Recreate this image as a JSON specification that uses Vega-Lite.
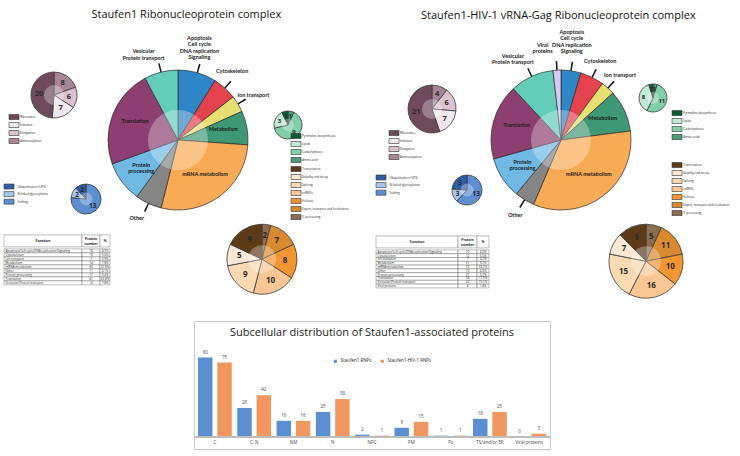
{
  "$schema": "https://vega.github.io/schema/vega-lite/v6.json",
  "padding": {"left": 3, "top": 8, "right": 0, "bottom": 0},
  "background": "white",
  "config": {
    "view": {"stroke": null},
    "font": "Open Sans",
    "title": {"font": "Open Sans", "fontSize": 11, "fontWeight": "normal", "color": "#111"},
    "legend": {"labelFontSize": 3, "labelFont": "Open Sans", "symbolType": "M-2,-1H2V1H-2Z", "symbolSize": 25, "symbolStrokeColor": "#333", "symbolStrokeWidth": 0.6, "symbolOpacity": 1, "rowPadding": 0, "padding": 0, "labelOffset": 3, "labelColor": "#222", "labelLimit": 200}
  },
  "datasets": {
    "mainL": [
      {"cat": "Apoptosis/Cell cycle/DNA replication/Signaling", "n": 16, "lab": "Apoptosis\nCell cycle\nDNA replication\nSignaling"},
      {"cat": "Cytoskeleton", "n": 10, "lab": "Cytoskeleton"},
      {"cat": "Ion transport", "n": 7, "lab": "Ion transport"},
      {"cat": "Metabolism", "n": 14, "lab": "Metabolism"},
      {"cat": "mRNA metabolism", "n": 50, "lab": "mRNA metabolism"},
      {"cat": "Other", "n": 11, "lab": "Other"},
      {"cat": "Protein processing", "n": 17, "lab": "Protein\nprocessing"},
      {"cat": "Translation", "n": 41, "lab": "Translation"},
      {"cat": "Vesicular/Protein transport", "n": 14, "lab": "Vesicular\nProtein transport"}
    ],
    "mainR": [
      {"cat": "Apoptosis/Cell cycle/DNA replication/Signaling", "n": 10, "lab": "Apoptosis\nCell cycle\nDNA replication\nSignaling"},
      {"cat": "Cytoskeleton", "n": 12, "lab": "Cytoskeleton"},
      {"cat": "Ion transport", "n": 7, "lab": "Ion transport"},
      {"cat": "Metabolism", "n": 21, "lab": "Metabolism"},
      {"cat": "mRNA metabolism", "n": 73, "lab": "mRNA metabolism"},
      {"cat": "Other", "n": 10, "lab": "Other"},
      {"cat": "Protein processing", "n": 21, "lab": "Protein\nprocessing"},
      {"cat": "Translation", "n": 38, "lab": "Translation"},
      {"cat": "Vesicular/Protein transport", "n": 22, "lab": "Vesicular\nProtein transport"},
      {"cat": "Viral proteins", "n": 4, "lab": "Viral\nproteins"}
    ],
    "transL": [{"c": "Aminoacylation", "n": 8}, {"c": "Elongation", "n": 6}, {"c": "Initiation", "n": 7}, {"c": "Ribosomes", "n": 20}],
    "transR": [{"c": "Aminoacylation", "n": 4}, {"c": "Elongation", "n": 6}, {"c": "Initiation", "n": 7}, {"c": "Ribosomes", "n": 21}],
    "metL": [{"c": "Amino acid", "n": 1}, {"c": "Carbohydrates", "n": 9}, {"c": "Lipids", "n": 3}, {"c": "Pyrimidine biosynthesis", "n": 1}],
    "metR": [{"c": "Amino acids", "n": 1}, {"c": "Carbohydrates", "n": 11}, {"c": "Lipids", "n": 8}, {"c": "Pyrimidine biosynthesis", "n": 1}],
    "protL": [{"c": "Folding", "n": 13}, {"c": "N-linked glycosylation", "n": 2}, {"c": "Ubiquitination (UPS)", "n": 2}],
    "protR": [{"c": "Folding", "n": 13}, {"c": "N-linked glycosylation", "n": 3}, {"c": "Ubiquitination (UPS)", "n": 5}],
    "mrnaL": [{"c": "3'-processing", "n": 2}, {"c": "Export, transport and localization", "n": 7}, {"c": "Helicase", "n": 8}, {"c": "snRNPs", "n": 10}, {"c": "Splicing", "n": 9}, {"c": "Stability and decay", "n": 5}, {"c": "Transcription", "n": 9}],
    "mrnaR": [{"c": "3'-processing", "n": 5}, {"c": "Export, transport and localization", "n": 11}, {"c": "Helicase", "n": 10}, {"c": "snRNPs", "n": 16}, {"c": "Splicing", "n": 15}, {"c": "Stability and decay", "n": 7}, {"c": "Transcription", "n": 9}],
    "tableL": [
      {"f": "Apoptosis/Cell cycle/DNA replication/Signaling", "n": "16", "p": "8.9%"},
      {"f": "Cytoskeleton", "n": "10", "p": "5.6%"},
      {"f": "Ion transport", "n": "7", "p": "3.9%"},
      {"f": "Metabolism", "n": "14", "p": "7.8%"},
      {"f": "mRNA metabolism", "n": "50", "p": "27.8%"},
      {"f": "Other", "n": "11", "p": "6.1%"},
      {"f": "Protein processing", "n": "17", "p": "9.4%"},
      {"f": "Translation", "n": "41", "p": "22.8%"},
      {"f": "Vesicular/Protein transport", "n": "14", "p": "7.8%"}
    ],
    "tableR": [
      {"f": "Apoptosis/Cell cycle/DNA replication/Signaling", "n": "10", "p": "4.6%"},
      {"f": "Cytoskeleton", "n": "12", "p": "5.5%"},
      {"f": "Ion transport", "n": "7", "p": "3.2%"},
      {"f": "Metabolism", "n": "21", "p": "9.7%"},
      {"f": "mRNA metabolism", "n": "73", "p": "33.7%"},
      {"f": "Other", "n": "10", "p": "4.6%"},
      {"f": "Protein processing", "n": "21", "p": "9.7%"},
      {"f": "Translation", "n": "38", "p": "17.5%"},
      {"f": "Vesicular/Protein transport", "n": "22", "p": "10.1%"},
      {"f": "Viral proteins", "n": "4", "p": "1.8%"}
    ],
    "bars": [
      {"loc": "C", "s": "Staufen1 RNPs", "v": 80}, {"loc": "C", "s": "Staufen1-HIV-1 RNPs", "v": 75},
      {"loc": "C, N", "s": "Staufen1 RNPs", "v": 29}, {"loc": "C, N", "s": "Staufen1-HIV-1 RNPs", "v": 42},
      {"loc": "NM", "s": "Staufen1 RNPs", "v": 16}, {"loc": "NM", "s": "Staufen1-HIV-1 RNPs", "v": 16},
      {"loc": "N", "s": "Staufen1 RNPs", "v": 25}, {"loc": "N", "s": "Staufen1-HIV-1 RNPs", "v": 38},
      {"loc": "NPC", "s": "Staufen1 RNPs", "v": 2}, {"loc": "NPC", "s": "Staufen1-HIV-1 RNPs", "v": 1},
      {"loc": "PM", "s": "Staufen1 RNPs", "v": 9}, {"loc": "PM", "s": "Staufen1-HIV-1 RNPs", "v": 15},
      {"loc": "Ps", "s": "Staufen1 RNPs", "v": 1}, {"loc": "Ps", "s": "Staufen1-HIV-1 RNPs", "v": 1},
      {"loc": "TS/and/or ER", "s": "Staufen1 RNPs", "v": 18}, {"loc": "TS/and/or ER", "s": "Staufen1-HIV-1 RNPs", "v": 25},
      {"loc": "Viral proteins", "s": "Staufen1 RNPs", "v": 0}, {"loc": "Viral proteins", "s": "Staufen1-HIV-1 RNPs", "v": 3}
    ]
  },
  "vconcat": [
    {
      "hconcat": [
        {
          "title": {"text": "Staufen1 Ribonucleoprotein complex", "offset": 16, "anchor": "middle"},
          "vconcat": [
            {
              "hconcat": [
                {
                  "vconcat": [
                    {
                      "width": 100, "height": 50,
                      "data": {"name": "transL"},
                      "layer": [
                        {"transform": [{"calculate": "lower(datum.c)", "as": "k"}],
                         "mark": {"type": "arc", "outerRadius": 23, "stroke": "#3a3a3a", "strokeWidth": 0.8},
                         "encoding": {"theta": {"field": "n", "type": "quantitative", "stack": true}, "order": {"field": "k"},
                           "color": {"field": "c", "type": "nominal", "scale": {"domain": ["Ribosomes", "Initiation", "Elongation", "Aminoacylation"], "range": ["#6f4a5c", "#f1e7ef", "#dcc1cf", "#a98697"]},
                             "legend": {"orient": "none", "legendX": 7, "legendY": 44, "title": null}}}},
                        {"data": {"values": [{}]}, "mark": {"type": "arc", "theta": 0, "theta2": 6.2832, "outerRadius": 10, "fill": "#ffffff", "fillOpacity": 0.3}, "encoding": {}},
                        {"transform": [{"calculate": "lower(datum.c)", "as": "k"}],
                         "mark": {"type": "text", "radius": 15, "fontSize": 7.5, "fontWeight": "bold", "fill": "#2a2a2a"},
                         "encoding": {"theta": {"field": "n", "type": "quantitative", "stack": true}, "order": {"field": "k"}, "text": {"field": "n", "type": "quantitative"}}}
                      ]
                    },
                    {
                      "hconcat": [
                        {
                          "width": 10, "height": 20.2,
                          "data": {"name": "protL"},
                          "mark": {"type": "rect", "stroke": "#333", "strokeWidth": 0.6},
                          "encoding": {
                            "y": {"field": "c", "type": "nominal", "sort": ["Ubiquitination (UPS)", "N-linked glycosylation", "Folding"], "scale": {"paddingInner": 0.34, "paddingOuter": 0},
                              "axis": {"orient": "right", "domain": false, "ticks": false, "title": null, "labelFontSize": 3, "labelFont": "Open Sans", "labelColor": "#222", "labelPadding": 3, "labelLimit": 200}},
                            "color": {"field": "c", "type": "nominal", "legend": null, "scale": {"domain": ["Ubiquitination (UPS)", "N-linked glycosylation", "Folding"], "range": ["#2e5ea6", "#a8c6ea", "#5e8ed2"]}}
                          }
                        },
                        {
                          "width": 30, "height": 30,
                          "data": {"name": "protL"},
                          "layer": [
                            {"transform": [{"calculate": "lower(datum.c)", "as": "k"}],
                             "mark": {"type": "arc", "outerRadius": 15, "stroke": "#3a3a3a", "strokeWidth": 0.8},
                             "encoding": {"theta": {"field": "n", "type": "quantitative", "stack": true}, "order": {"field": "k"},
                               "color": {"field": "c", "type": "nominal", "legend": null, "scale": {"domain": ["Ubiquitination (UPS)", "N-linked glycosylation", "Folding"], "range": ["#2e5ea6", "#a8c6ea", "#5e8ed2"]}}}},
                            {"data": {"values": [{}]}, "mark": {"type": "arc", "theta": 0, "theta2": 6.2832, "outerRadius": 6.5, "fill": "#ffffff", "fillOpacity": 0.3}, "encoding": {}},
                            {"transform": [{"calculate": "lower(datum.c)", "as": "k"}],
                             "mark": {"type": "text", "radius": 10, "fontSize": 6.5, "fontWeight": "bold", "fill": "#2a2a2a"},
                             "encoding": {"theta": {"field": "n", "type": "quantitative", "stack": true}, "order": {"field": "k"}, "text": {"field": "n", "type": "quantitative"}}}
                          ]
                        }
                      ],
                      "spacing": 21, "bounds": "full",
                      "resolve": {"scale": {"color": "independent", "theta": "independent"}, "legend": {"color": "independent"}}
                    }
                  ],
                  "spacing": 37, "bounds": "full",
                  "resolve": {"scale": {"color": "independent", "theta": "independent"}, "legend": {"color": "independent"}}
                },
                {
                  "width": 140, "height": 140,
                  "data": {"name": "mainL"},
                  "transform": [
                    {"calculate": "lower(datum.cat)", "as": "k"},
                    {"window": [{"op": "sum", "field": "n", "as": "cum"}], "sort": [{"field": "k", "order": "ascending"}]},
                    {"joinaggregate": [{"op": "sum", "field": "n", "as": "tot"}]},
                    {"calculate": "(datum.cum - datum.n/2)/datum.tot*360", "as": "mid"},
                    {"calculate": "datum.mid + (datum.cat == 'Vesicular/Protein transport' ? -8 : datum.cat == 'Cytoskeleton' ? -4 : datum.cat == 'Apoptosis/Cell cycle/DNA replication/Signaling' ? -3 : datum.cat == 'Other' ? 3 : 0)", "as": "ang"}
                  ],
                  "layer": [
                    {"mark": {"type": "arc", "outerRadius": 70, "stroke": "#2b2b2b", "strokeWidth": 0.7},
                     "encoding": {"theta": {"field": "n", "type": "quantitative", "stack": true}, "order": {"field": "k"},
                       "color": {"field": "cat", "type": "nominal", "legend": null, "scale": {"domain": ["Apoptosis/Cell cycle/DNA replication/Signaling", "Cytoskeleton", "Ion transport", "Metabolism", "mRNA metabolism", "Other", "Protein processing", "Translation", "Vesicular/Protein transport", "Viral proteins"], "range": ["#2f86c6", "#e4434e", "#e7df72", "#3f9875", "#f8aa55", "#858585", "#6fb9e4", "#8d3f72", "#63cdb9", "#d3cdf3"]}}}},
                    {"data": {"values": [{}]}, "mark": {"type": "arc", "theta": 0, "theta2": 6.2832, "outerRadius": 30, "fill": "#ffffff", "fillOpacity": 0.3}, "encoding": {}},
                    {"transform": [
                       {"filter": "indexof(['Translation','Metabolism','mRNA metabolism','Protein processing'], datum.cat) < 0"},
                       {"calculate": "datum.mid - 0.6", "as": "a0"},
                       {"calculate": "datum.mid + 0.6", "as": "a1"}],
                     "mark": {"type": "arc", "innerRadius": 70, "outerRadius": 79, "fill": "#1a1a1a"},
                     "encoding": {"theta": {"field": "a0", "type": "quantitative", "stack": null, "scale": {"domain": [0, 360]}}, "theta2": {"field": "a1"}}},
                    {"transform": [{"filter": "indexof(['Translation','Metabolism','mRNA metabolism','Protein processing'], datum.cat) >= 0"}],
                     "mark": {"type": "text", "radius": 46, "dy": -3, "font": "Lato", "fontSize": 5.5, "fontWeight": "bold", "lineBreak": "\n", "lineHeight": 6.3, "fill": "#1a1a1a"},
                     "encoding": {"theta": {"field": "mid", "type": "quantitative", "stack": null, "scale": {"domain": [0, 360]}}, "text": {"field": "lab"}}},
                    {"transform": [{"filter": "datum.cat == 'Apoptosis/Cell cycle/DNA replication/Signaling'"}],
                     "mark": {"type": "text", "radius": 95, "dy": -9.5, "font": "Lato", "fontSize": 5.5, "fontWeight": "bold", "lineBreak": "\n", "lineHeight": 6.3, "fill": "#1a1a1a"},
                     "encoding": {"theta": {"field": "ang", "type": "quantitative", "stack": null, "scale": {"domain": [0, 360]}}, "text": {"field": "lab"}}},
                    {"transform": [{"filter": "datum.cat == 'Vesicular/Protein transport'"}],
                     "mark": {"type": "text", "radius": 92, "dy": -3.2, "font": "Lato", "fontSize": 5.5, "fontWeight": "bold", "lineBreak": "\n", "lineHeight": 6.3, "fill": "#1a1a1a"},
                     "encoding": {"theta": {"field": "ang", "type": "quantitative", "stack": null, "scale": {"domain": [0, 360]}}, "text": {"field": "lab"}}},
                    {"transform": [{"filter": "indexof(['Cytoskeleton','Ion transport','Other'], datum.cat) >= 0"}],
                     "mark": {"type": "text", "radius": 88, "font": "Lato", "fontSize": 5.5, "fontWeight": "bold", "fill": "#1a1a1a"},
                     "encoding": {"theta": {"field": "ang", "type": "quantitative", "stack": null, "scale": {"domain": [0, 360]}}, "text": {"field": "lab"}}}
                  ],
                  "resolve": {"scale": {"theta": "independent"}}
                },
                {
                  "width": 28, "height": 110,
                  "data": {"name": "metL"},
                  "layer": [
                    {"transform": [{"calculate": "lower(datum.c)", "as": "k"}],
                     "mark": {"type": "arc", "outerRadius": 14, "stroke": "#3a3a3a", "strokeWidth": 0.8},
                     "encoding": {"theta": {"field": "n", "type": "quantitative", "stack": true}, "order": {"field": "k"},
                       "color": {"field": "c", "type": "nominal", "scale": {"domain": ["Pyrimidine biosynthesis", "Lipids", "Carbohydrates", "Amino acid"], "range": ["#0e5c36", "#c4e8d6", "#80cfa8", "#4b9c7a"]},
                         "legend": {"orient": "none", "legendX": 19, "legendY": 63, "title": null}}}},
                    {"data": {"values": [{}]}, "mark": {"type": "arc", "theta": 0, "theta2": 6.2832, "outerRadius": 6, "fill": "#ffffff", "fillOpacity": 0.3}, "encoding": {}},
                    {"transform": [{"calculate": "lower(datum.c)", "as": "k"}],
                     "mark": {"type": "text", "radius": 9.5, "fontSize": 6, "fontWeight": "bold", "fill": "#2a2a2a"},
                     "encoding": {"theta": {"field": "n", "type": "quantitative", "stack": true}, "order": {"field": "k"}, "text": {"field": "n", "type": "quantitative"}}},
                    {"data": {"name": "mrnaL"},
                     "mark": {"type": "arc", "outerRadius": 1, "opacity": 0},
                     "encoding": {"theta": {"field": "n", "type": "quantitative"},
                       "color": {"field": "c", "type": "nominal", "scale": {"domain": ["Transcription", "Stability and decay", "Splicing", "snRNPs", "Helicase", "Export, transport and localization", "3'-processing"], "range": ["#5e3b18", "#fce8d6", "#fbd9b2", "#f9c794", "#f39632", "#d98a2e", "#8c6d50"]},
                         "legend": {"orient": "none", "legendX": 19, "legendY": 96, "title": null, "symbolOpacity": 1, "symbolStrokeColor": "#333"}}}}
                  ],
                  "resolve": {"scale": {"color": "independent", "theta": "independent"}, "legend": {"color": "independent"}}
                }
              ],
              "spacing": 2, "bounds": "full",
              "resolve": {"scale": {"color": "independent", "theta": "independent"}, "legend": {"color": "independent"}}
            },
            {
              "hconcat": [
                {
                  "vconcat": [
                    {
                      "hconcat": [
                        {"width": 78, "height": 12, "data": {"values": [{"h": "Function"}]}, "layer": [{"mark": {"type": "rect", "fill": "#ffffff", "stroke": "#555", "strokeWidth": 0.4}, "encoding": {}}, {"mark": {"type": "text", "fontSize": 3.4, "fontWeight": "bold", "fill": "#222"}, "encoding": {"text": {"field": "h"}}}]},
                        {"width": 18, "height": 12, "data": {"values": [{"h": "Protein\nnumber"}]}, "layer": [{"mark": {"type": "rect", "fill": "#ffffff", "stroke": "#555", "strokeWidth": 0.4}, "encoding": {}}, {"mark": {"type": "text", "fontSize": 3.4, "fontWeight": "bold", "fill": "#222", "lineBreak": "\n", "dy": -2}, "encoding": {"text": {"field": "h"}}}]},
                        {"width": 10, "height": 12, "data": {"values": [{"h": "%"}]}, "layer": [{"mark": {"type": "rect", "fill": "#ffffff", "stroke": "#555", "strokeWidth": 0.4}, "encoding": {}}, {"mark": {"type": "text", "fontSize": 3.4, "fontWeight": "bold", "fill": "#222"}, "encoding": {"text": {"field": "h"}}}]}
                      ],
                      "spacing": 0, "bounds": "flush"
                    },
                    {
                      "hconcat": [
                        {"width": 78, "height": 36, "data": {"name": "tableL"}, "encoding": {"y": {"field": "f", "type": "nominal", "sort": null, "axis": null, "scale": {"paddingInner": 0, "paddingOuter": 0}}},
                         "layer": [{"mark": {"type": "rect", "fill": "#ffffff", "stroke": "#555", "strokeWidth": 0.4}}, {"mark": {"type": "text", "fontSize": 3, "align": "left", "dx": -37.5, "fill": "#222"}, "encoding": {"text": {"field": "f"}}}]},
                        {"width": 18, "height": 36, "data": {"name": "tableL"}, "encoding": {"y": {"field": "f", "type": "nominal", "sort": null, "axis": null, "scale": {"paddingInner": 0, "paddingOuter": 0}}},
                         "layer": [{"mark": {"type": "rect", "fill": "#ffffff", "stroke": "#555", "strokeWidth": 0.4}}, {"mark": {"type": "text", "fontSize": 3, "fill": "#222"}, "encoding": {"text": {"field": "n"}}}]},
                        {"width": 10, "height": 36, "data": {"name": "tableL"}, "encoding": {"y": {"field": "f", "type": "nominal", "sort": null, "axis": null, "scale": {"paddingInner": 0, "paddingOuter": 0}}},
                         "layer": [{"mark": {"type": "rect", "fill": "#ffffff", "stroke": "#555", "strokeWidth": 0.4}}, {"mark": {"type": "text", "fontSize": 3, "fill": "#222"}, "encoding": {"text": {"field": "p"}}}]}
                      ],
                      "spacing": 0, "bounds": "flush"
                    }
                  ],
                  "spacing": 0, "bounds": "full"
                },
                {
                  "width": 214, "height": 70,
                  "data": {"name": "mrnaL"},
                  "layer": [
                    {"transform": [{"calculate": "lower(datum.c)", "as": "k"}],
                     "mark": {"type": "arc", "outerRadius": 35, "stroke": "#3a3a3a", "strokeWidth": 0.8},
                     "encoding": {"theta": {"field": "n", "type": "quantitative", "stack": true}, "order": {"field": "k"},
                       "color": {"field": "c", "type": "nominal", "legend": null, "scale": {"domain": ["Transcription", "Stability and decay", "Splicing", "snRNPs", "Helicase", "Export, transport and localization", "3'-processing"], "range": ["#5e3b18", "#fce8d6", "#fbd9b2", "#f9c794", "#f39632", "#d98a2e", "#8c6d50"]}}}},
                    {"data": {"values": [{}]}, "mark": {"type": "arc", "theta": 0, "theta2": 6.2832, "outerRadius": 14, "fill": "#ffffff", "fillOpacity": 0.3}, "encoding": {}},
                    {"transform": [{"calculate": "lower(datum.c)", "as": "k"}],
                     "mark": {"type": "text", "radius": 23, "fontSize": 8, "fontWeight": "bold", "fill": "#2a2a2a"},
                     "encoding": {"theta": {"field": "n", "type": "quantitative", "stack": true}, "order": {"field": "k"}, "text": {"field": "n", "type": "quantitative"}}}
                  ]
                }
              ],
              "spacing": 44, "center": true, "bounds": "full",
              "resolve": {"scale": {"color": "independent", "theta": "independent"}, "legend": {"color": "independent"}}
            }
          ],
          "spacing": 0, "bounds": "full",
          "resolve": {"scale": {"color": "independent", "theta": "independent"}, "legend": {"color": "independent"}}
        },
        {
          "title": {"text": "Staufen1-HIV-1 vRNA-Gag Ribonucleoprotein complex", "offset": 9, "anchor": "middle"},
          "vconcat": [
            {
              "hconcat": [
                {
                  "vconcat": [
                    {
                      "width": 112, "height": 78,
                      "data": {"name": "transR"},
                      "layer": [
                        {"transform": [{"calculate": "lower(datum.c)", "as": "k"}],
                         "mark": {"type": "arc", "outerRadius": 24, "stroke": "#3a3a3a", "strokeWidth": 0.8},
                         "encoding": {"theta": {"field": "n", "type": "quantitative", "stack": true}, "order": {"field": "k"},
                           "color": {"field": "c", "type": "nominal", "scale": {"domain": ["Ribosomes", "Initiation", "Elongation", "Aminoacylation"], "range": ["#6f4a5c", "#f1e7ef", "#dcc1cf", "#a98697"]},
                             "legend": {"orient": "none", "legendX": 15, "legendY": 60, "title": null}}}},
                        {"data": {"values": [{}]}, "mark": {"type": "arc", "theta": 0, "theta2": 6.2832, "outerRadius": 10, "fill": "#ffffff", "fillOpacity": 0.3}, "encoding": {}},
                        {"transform": [{"calculate": "lower(datum.c)", "as": "k"}],
                         "mark": {"type": "text", "radius": 16, "fontSize": 7.5, "fontWeight": "bold", "fill": "#2a2a2a"},
                         "encoding": {"theta": {"field": "n", "type": "quantitative", "stack": true}, "order": {"field": "k"}, "text": {"field": "n", "type": "quantitative"}}}
                      ]
                    },
                    {
                      "hconcat": [
                        {
                          "width": 10, "height": 20.2,
                          "data": {"name": "protR"},
                          "mark": {"type": "rect", "stroke": "#333", "strokeWidth": 0.6},
                          "encoding": {
                            "y": {"field": "c", "type": "nominal", "sort": ["Ubiquitination (UPS)", "N-linked glycosylation", "Folding"], "scale": {"paddingInner": 0.34, "paddingOuter": 0},
                              "axis": {"orient": "right", "domain": false, "ticks": false, "title": null, "labelFontSize": 3, "labelFont": "Open Sans", "labelColor": "#222", "labelPadding": 3, "labelLimit": 200}},
                            "color": {"field": "c", "type": "nominal", "legend": null, "scale": {"domain": ["Ubiquitination (UPS)", "N-linked glycosylation", "Folding"], "range": ["#2e5ea6", "#a8c6ea", "#5e8ed2"]}}
                          }
                        },
                        {
                          "width": 30, "height": 30,
                          "data": {"name": "protR"},
                          "layer": [
                            {"transform": [{"calculate": "lower(datum.c)", "as": "k"}],
                             "mark": {"type": "arc", "outerRadius": 15, "stroke": "#3a3a3a", "strokeWidth": 0.8},
                             "encoding": {"theta": {"field": "n", "type": "quantitative", "stack": true}, "order": {"field": "k"},
                               "color": {"field": "c", "type": "nominal", "legend": null, "scale": {"domain": ["Ubiquitination (UPS)", "N-linked glycosylation", "Folding"], "range": ["#2e5ea6", "#a8c6ea", "#5e8ed2"]}}}},
                            {"data": {"values": [{}]}, "mark": {"type": "arc", "theta": 0, "theta2": 6.2832, "outerRadius": 6.5, "fill": "#ffffff", "fillOpacity": 0.3}, "encoding": {}},
                            {"transform": [{"calculate": "lower(datum.c)", "as": "k"}],
                             "mark": {"type": "text", "radius": 10, "fontSize": 6.5, "fontWeight": "bold", "fill": "#2a2a2a"},
                             "encoding": {"theta": {"field": "n", "type": "quantitative", "stack": true}, "order": {"field": "k"}, "text": {"field": "n", "type": "quantitative"}}}
                          ]
                        }
                      ],
                      "spacing": 30, "bounds": "full",
                      "resolve": {"scale": {"color": "independent", "theta": "independent"}, "legend": {"color": "independent"}}
                    }
                  ],
                  "spacing": 12, "bounds": "full",
                  "resolve": {"scale": {"color": "independent", "theta": "independent"}, "legend": {"color": "independent"}}
                },
                {
                  "width": 140, "height": 140,
                  "data": {"name": "mainR"},
                  "transform": [
                    {"calculate": "lower(datum.cat)", "as": "k"},
                    {"window": [{"op": "sum", "field": "n", "as": "cum"}], "sort": [{"field": "k", "order": "ascending"}]},
                    {"joinaggregate": [{"op": "sum", "field": "n", "as": "tot"}]},
                    {"calculate": "(datum.cum - datum.n/2)/datum.tot*360", "as": "mid"},
                    {"calculate": "datum.mid + (datum.cat == 'Vesicular/Protein transport' ? -6 : datum.cat == 'Viral proteins' ? -8 : datum.cat == 'Apoptosis/Cell cycle/DNA replication/Signaling' ? -2 : 0)", "as": "ang"}
                  ],
                  "layer": [
                    {"mark": {"type": "arc", "outerRadius": 70, "stroke": "#2b2b2b", "strokeWidth": 0.7},
                     "encoding": {"theta": {"field": "n", "type": "quantitative", "stack": true}, "order": {"field": "k"},
                       "color": {"field": "cat", "type": "nominal", "legend": null, "scale": {"domain": ["Apoptosis/Cell cycle/DNA replication/Signaling", "Cytoskeleton", "Ion transport", "Metabolism", "mRNA metabolism", "Other", "Protein processing", "Translation", "Vesicular/Protein transport", "Viral proteins"], "range": ["#2f86c6", "#e4434e", "#e7df72", "#3f9875", "#f8aa55", "#858585", "#6fb9e4", "#8d3f72", "#63cdb9", "#d3cdf3"]}}}},
                    {"data": {"values": [{}]}, "mark": {"type": "arc", "theta": 0, "theta2": 6.2832, "outerRadius": 30, "fill": "#ffffff", "fillOpacity": 0.3}, "encoding": {}},
                    {"transform": [
                       {"filter": "indexof(['Translation','Metabolism','mRNA metabolism','Protein processing'], datum.cat) < 0"},
                       {"calculate": "datum.mid - 0.6", "as": "a0"},
                       {"calculate": "datum.mid + 0.6", "as": "a1"}],
                     "mark": {"type": "arc", "innerRadius": 70, "outerRadius": 79, "fill": "#1a1a1a"},
                     "encoding": {"theta": {"field": "a0", "type": "quantitative", "stack": null, "scale": {"domain": [0, 360]}}, "theta2": {"field": "a1"}}},
                    {"transform": [{"filter": "indexof(['Translation','Metabolism','mRNA metabolism','Protein processing'], datum.cat) >= 0"}],
                     "mark": {"type": "text", "radius": 46, "dy": -3, "font": "Lato", "fontSize": 5.5, "fontWeight": "bold", "lineBreak": "\n", "lineHeight": 6.3, "fill": "#1a1a1a"},
                     "encoding": {"theta": {"field": "mid", "type": "quantitative", "stack": null, "scale": {"domain": [0, 360]}}, "text": {"field": "lab"}}},
                    {"transform": [{"filter": "datum.cat == 'Apoptosis/Cell cycle/DNA replication/Signaling'"}],
                     "mark": {"type": "text", "radius": 99, "dy": -9.5, "font": "Lato", "fontSize": 5.5, "fontWeight": "bold", "lineBreak": "\n", "lineHeight": 6.3, "fill": "#1a1a1a"},
                     "encoding": {"theta": {"field": "ang", "type": "quantitative", "stack": null, "scale": {"domain": [0, 360]}}, "text": {"field": "lab"}}},
                    {"transform": [{"filter": "indexof(['Vesicular/Protein transport','Viral proteins'], datum.cat) >= 0"}],
                     "mark": {"type": "text", "radius": 94, "dy": -3.2, "font": "Lato", "fontSize": 5.5, "fontWeight": "bold", "lineBreak": "\n", "lineHeight": 6.3, "fill": "#1a1a1a"},
                     "encoding": {"theta": {"field": "ang", "type": "quantitative", "stack": null, "scale": {"domain": [0, 360]}}, "text": {"field": "lab"}}},
                    {"transform": [{"filter": "indexof(['Cytoskeleton','Ion transport','Other'], datum.cat) >= 0"}],
                     "mark": {"type": "text", "radius": 88, "font": "Lato", "fontSize": 5.5, "fontWeight": "bold", "fill": "#1a1a1a"},
                     "encoding": {"theta": {"field": "ang", "type": "quantitative", "stack": null, "scale": {"domain": [0, 360]}}, "text": {"field": "lab"}}}
                  ],
                  "resolve": {"scale": {"theta": "independent"}}
                },
                {
                  "width": 28, "height": 56,
                  "data": {"name": "metR"},
                  "layer": [
                    {"transform": [{"calculate": "lower(datum.c)", "as": "k"}],
                     "mark": {"type": "arc", "outerRadius": 14, "stroke": "#3a3a3a", "strokeWidth": 0.8},
                     "encoding": {"theta": {"field": "n", "type": "quantitative", "stack": true}, "order": {"field": "k"},
                       "color": {"field": "c", "type": "nominal", "scale": {"domain": ["Pyrimidine biosynthesis", "Lipids", "Carbohydrates", "Amino acids"], "range": ["#0e5c36", "#c4e8d6", "#80cfa8", "#4b9c7a"]},
                         "legend": {"orient": "none", "legendX": 35, "legendY": 40, "title": null}}}},
                    {"data": {"values": [{}]}, "mark": {"type": "arc", "theta": 0, "theta2": 6.2832, "outerRadius": 6, "fill": "#ffffff", "fillOpacity": 0.3}, "encoding": {}},
                    {"transform": [{"calculate": "lower(datum.c)", "as": "k"}],
                     "mark": {"type": "text", "radius": 9.5, "fontSize": 6, "fontWeight": "bold", "fill": "#2a2a2a"},
                     "encoding": {"theta": {"field": "n", "type": "quantitative", "stack": true}, "order": {"field": "k"}, "text": {"field": "n", "type": "quantitative"}}},
                    {"data": {"name": "mrnaR"},
                     "mark": {"type": "arc", "outerRadius": 1, "opacity": 0},
                     "encoding": {"theta": {"field": "n", "type": "quantitative"},
                       "color": {"field": "c", "type": "nominal", "scale": {"domain": ["Transcription", "Stability and decay", "Splicing", "snRNPs", "Helicase", "Export, transport and localization", "3'-processing"], "range": ["#5e3b18", "#fce8d6", "#fbd9b2", "#f9c794", "#f39632", "#d98a2e", "#8c6d50"]},
                         "legend": {"orient": "none", "legendX": 35, "legendY": 92, "title": null, "symbolOpacity": 1, "symbolStrokeColor": "#333"}}}}
                  ],
                  "resolve": {"scale": {"color": "independent", "theta": "independent"}, "legend": {"color": "independent"}}
                }
              ],
              "spacing": 1, "bounds": "full",
              "resolve": {"scale": {"color": "independent", "theta": "independent"}, "legend": {"color": "independent"}}
            },
            {
              "hconcat": [
                {
                  "vconcat": [
                    {
                      "hconcat": [
                        {"width": 82, "height": 12, "data": {"values": [{"h": "Function"}]}, "layer": [{"mark": {"type": "rect", "fill": "#ffffff", "stroke": "#555", "strokeWidth": 0.4}, "encoding": {}}, {"mark": {"type": "text", "fontSize": 3.4, "fontWeight": "bold", "fill": "#222"}, "encoding": {"text": {"field": "h"}}}]},
                        {"width": 19, "height": 12, "data": {"values": [{"h": "Protein\nnumber"}]}, "layer": [{"mark": {"type": "rect", "fill": "#ffffff", "stroke": "#555", "strokeWidth": 0.4}, "encoding": {}}, {"mark": {"type": "text", "fontSize": 3.4, "fontWeight": "bold", "fill": "#222", "lineBreak": "\n", "dy": -2}, "encoding": {"text": {"field": "h"}}}]},
                        {"width": 12, "height": 12, "data": {"values": [{"h": "%"}]}, "layer": [{"mark": {"type": "rect", "fill": "#ffffff", "stroke": "#555", "strokeWidth": 0.4}, "encoding": {}}, {"mark": {"type": "text", "fontSize": 3.4, "fontWeight": "bold", "fill": "#222"}, "encoding": {"text": {"field": "h"}}}]}
                      ],
                      "spacing": 0, "bounds": "flush"
                    },
                    {
                      "hconcat": [
                        {"width": 82, "height": 38, "data": {"name": "tableR"}, "encoding": {"y": {"field": "f", "type": "nominal", "sort": null, "axis": null, "scale": {"paddingInner": 0, "paddingOuter": 0}}},
                         "layer": [{"mark": {"type": "rect", "fill": "#ffffff", "stroke": "#555", "strokeWidth": 0.4}}, {"mark": {"type": "text", "fontSize": 3, "align": "left", "dx": -39.5, "fill": "#222"}, "encoding": {"text": {"field": "f"}}}]},
                        {"width": 19, "height": 38, "data": {"name": "tableR"}, "encoding": {"y": {"field": "f", "type": "nominal", "sort": null, "axis": null, "scale": {"paddingInner": 0, "paddingOuter": 0}}},
                         "layer": [{"mark": {"type": "rect", "fill": "#ffffff", "stroke": "#555", "strokeWidth": 0.4}}, {"mark": {"type": "text", "fontSize": 3, "fill": "#222"}, "encoding": {"text": {"field": "n"}}}]},
                        {"width": 12, "height": 38, "data": {"name": "tableR"}, "encoding": {"y": {"field": "f", "type": "nominal", "sort": null, "axis": null, "scale": {"paddingInner": 0, "paddingOuter": 0}}},
                         "layer": [{"mark": {"type": "rect", "fill": "#ffffff", "stroke": "#555", "strokeWidth": 0.4}}, {"mark": {"type": "text", "fontSize": 3, "fill": "#222"}, "encoding": {"text": {"field": "p"}}}]}
                      ],
                      "spacing": 0, "bounds": "flush"
                    }
                  ],
                  "spacing": 0, "bounds": "full"
                },
                {
                  "width": 190, "height": 74,
                  "data": {"name": "mrnaR"},
                  "layer": [
                    {"transform": [{"calculate": "lower(datum.c)", "as": "k"}],
                     "mark": {"type": "arc", "outerRadius": 37, "stroke": "#3a3a3a", "strokeWidth": 0.8},
                     "encoding": {"theta": {"field": "n", "type": "quantitative", "stack": true}, "order": {"field": "k"},
                       "color": {"field": "c", "type": "nominal", "legend": null, "scale": {"domain": ["Transcription", "Stability and decay", "Splicing", "snRNPs", "Helicase", "Export, transport and localization", "3'-processing"], "range": ["#5e3b18", "#fce8d6", "#fbd9b2", "#f9c794", "#f39632", "#d98a2e", "#8c6d50"]}}}},
                    {"data": {"values": [{}]}, "mark": {"type": "arc", "theta": 0, "theta2": 6.2832, "outerRadius": 15, "fill": "#ffffff", "fillOpacity": 0.3}, "encoding": {}},
                    {"transform": [{"calculate": "lower(datum.c)", "as": "k"}],
                     "mark": {"type": "text", "radius": 25, "fontSize": 8, "fontWeight": "bold", "fill": "#2a2a2a"},
                     "encoding": {"theta": {"field": "n", "type": "quantitative", "stack": true}, "order": {"field": "k"}, "text": {"field": "n", "type": "quantitative"}}}
                  ]
                }
              ],
              "spacing": 61, "center": true, "bounds": "full",
              "resolve": {"scale": {"color": "independent", "theta": "independent"}, "legend": {"color": "independent"}}
            }
          ],
          "spacing": 3, "bounds": "full",
          "resolve": {"scale": {"color": "independent", "theta": "independent"}, "legend": {"color": "independent"}}
        }
      ],
      "spacing": 6, "bounds": "full",
      "resolve": {"scale": {"color": "independent", "theta": "independent"}, "legend": {"color": "independent"}}
    },
    {
      "width": 356, "height": 128,
      "title": {"text": "Subcellular distribution of Staufen1-associated proteins", "fontSize": 11, "dy": 21, "color": "#222"},
      "data": {"name": "bars"},
      "view": {"stroke": "#c8c8c8", "strokeWidth": 1},
      "layer": [
        {"mark": {"type": "bar"},
         "encoding": {
           "x": {"field": "loc", "type": "nominal", "sort": null, "axis": null, "scale": {"paddingInner": 0.14, "paddingOuter": 0.1}},
           "xOffset": {"field": "s", "type": "nominal", "scale": {"paddingInner": 0.25}},
           "y": {"field": "v", "type": "quantitative", "stack": null, "axis": null, "scale": {"domain": [-12.5, 117], "nice": false, "zero": false}},
           "color": {"field": "s", "type": "nominal", "scale": {"domain": ["Staufen1 RNPs", "Staufen1-HIV-1 RNPs"], "range": ["#5b8fd1", "#f0975f"]},
             "legend": {"orient": "none", "legendX": 139, "legendY": 38, "direction": "horizontal", "title": null, "symbolType": "square", "symbolSize": 10, "symbolStrokeWidth": 0, "columnPadding": 8, "labelFontSize": 4.5}}}},
        {"mark": {"type": "text", "dy": -3, "baseline": "bottom", "fontSize": 4.5, "fill": "#444"},
         "encoding": {
           "x": {"field": "loc", "type": "nominal", "sort": null},
           "xOffset": {"field": "s", "type": "nominal"},
           "y": {"field": "v", "type": "quantitative", "stack": null},
           "text": {"field": "v", "type": "quantitative"}}},
        {"transform": [{"filter": "datum.s == 'Staufen1 RNPs'"}],
         "mark": {"type": "text", "dy": 3, "baseline": "top", "fontSize": 4.5, "fill": "#444"},
         "encoding": {
           "x": {"field": "loc", "type": "nominal", "sort": null},
           "y": {"datum": 0},
           "text": {"field": "loc"}}},
        {"mark": {"type": "rule", "color": "#bdbdbd", "strokeWidth": 0.8},
         "encoding": {"y": {"datum": 0}}}
      ]
    }
  ],
  "spacing": 20, "center": true, "bounds": "full",
  "resolve": {"scale": {"color": "independent", "theta": "independent"}, "legend": {"color": "independent"}}
}
